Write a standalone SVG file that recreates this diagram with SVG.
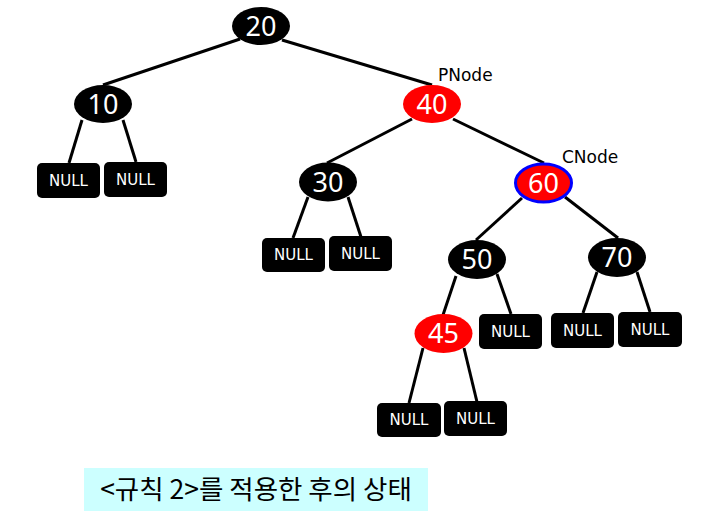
<svg xmlns="http://www.w3.org/2000/svg" width="703" height="526" viewBox="0 0 703 526">
<style>
.edge{stroke:#000;stroke-width:3;fill:none}
.blk{fill:#000}
.red{fill:#ff0000}
.sel{fill:#ff0000;stroke:#0000ff;stroke-width:3}
.num{font-family:"Noto Sans","DejaVu Sans",sans-serif;font-size:27px;fill:#fff;text-anchor:middle}
.nul{fill:#000}
.nt{font-family:"DejaVu Sans","Noto Sans",sans-serif;font-size:15px;fill:#fff;text-anchor:middle}
.lbl{font-family:"DejaVu Sans","Noto Sans",sans-serif;font-size:17px;fill:#000}
.cap{font-family:"Noto Sans CJK KR","Noto Sans",sans-serif;font-size:26.5px;fill:#000;text-anchor:middle}
</style>
<rect width="703" height="526" fill="#fff"/>
<g id="connectors">
<line class="edge" x1="240" y1="39" x2="103" y2="85"/>
<line class="edge" x1="282" y1="40" x2="432" y2="85"/>
<line class="edge" x1="82" y1="120" x2="69" y2="163"/>
<line class="edge" x1="123" y1="120" x2="136" y2="162"/>
<line class="edge" x1="412" y1="119" x2="327" y2="163"/>
<line class="edge" x1="453" y1="119" x2="544" y2="163"/>
<line class="edge" x1="308" y1="197" x2="293" y2="238"/>
<line class="edge" x1="348" y1="197" x2="361" y2="237"/>
<line class="edge" x1="522" y1="198" x2="476" y2="240"/>
<line class="edge" x1="565" y1="197" x2="618" y2="238"/>
<line class="edge" x1="456" y1="276" x2="443" y2="315"/>
<line class="edge" x1="497" y1="274" x2="511" y2="314"/>
<line class="edge" x1="597" y1="272" x2="583" y2="313"/>
<line class="edge" x1="637" y1="272" x2="650" y2="312"/>
<line class="edge" x1="423" y1="348" x2="409" y2="403"/>
<line class="edge" x1="464" y1="348" x2="477" y2="402"/>
</g>
<g id="n20"><ellipse class="blk" cx="261" cy="26" rx="29" ry="19"/><text class="num" x="261" y="35.5">20</text></g>
<g id="n10"><ellipse class="blk" cx="103" cy="104" rx="29" ry="19"/><text class="num" x="103" y="113.5">10</text></g>
<g id="n40"><ellipse class="red" cx="432" cy="104" rx="29" ry="19"/><text class="num" x="432" y="113.5">40</text></g>
<g id="pnode-label"><text class="lbl" x="438" y="81">PNode</text></g>
<g id="n30"><ellipse class="blk" cx="328" cy="182" rx="29" ry="19.5"/><text class="num" x="328" y="191.5">30</text></g>
<g id="n60"><ellipse class="sel" cx="543.5" cy="183" rx="28" ry="19"/><text class="num" x="543.5" y="192.5">60</text></g>
<g id="cnode-label"><text class="lbl" x="562" y="163">CNode</text></g>
<g id="n50"><ellipse class="blk" cx="477" cy="259.5" rx="29" ry="19.5"/><text class="num" x="477" y="269">50</text></g>
<g id="n70"><ellipse class="blk" cx="617" cy="257.5" rx="29" ry="19.5"/><text class="num" x="617" y="267">70</text></g>
<g id="n45"><ellipse class="red" cx="443.5" cy="333.5" rx="29" ry="19.5"/><text class="num" x="443.5" y="343">45</text></g>
<g id="null1"><rect class="nul" x="37" y="163" width="63" height="35" rx="5"/><text class="nt" x="68.5" y="186">NULL</text></g>
<g id="null2"><rect class="nul" x="104" y="162" width="63" height="35" rx="5"/><text class="nt" x="135.5" y="185">NULL</text></g>
<g id="null3"><rect class="nul" x="262" y="238" width="63" height="34" rx="5"/><text class="nt" x="293.5" y="260">NULL</text></g>
<g id="null4"><rect class="nul" x="329" y="236" width="63" height="35" rx="5"/><text class="nt" x="360.5" y="259">NULL</text></g>
<g id="null5"><rect class="nul" x="479" y="314" width="63" height="35" rx="5"/><text class="nt" x="510.5" y="337">NULL</text></g>
<g id="null6"><rect class="nul" x="551" y="313" width="63" height="35" rx="5"/><text class="nt" x="582.5" y="336">NULL</text></g>
<g id="null7"><rect class="nul" x="618" y="312" width="64" height="35" rx="5"/><text class="nt" x="650" y="335">NULL</text></g>
<g id="null8"><rect class="nul" x="377" y="403" width="64" height="34" rx="5"/><text class="nt" x="409" y="425">NULL</text></g>
<g id="null9"><rect class="nul" x="444" y="401" width="63" height="35" rx="5"/><text class="nt" x="475.5" y="424">NULL</text></g>
<g id="caption"><rect x="84" y="468" width="344" height="43" fill="#ccffff"/><text class="cap" x="256" y="499">&lt;규칙 2&gt;를 적용한 후의 상태</text></g>
</svg>
